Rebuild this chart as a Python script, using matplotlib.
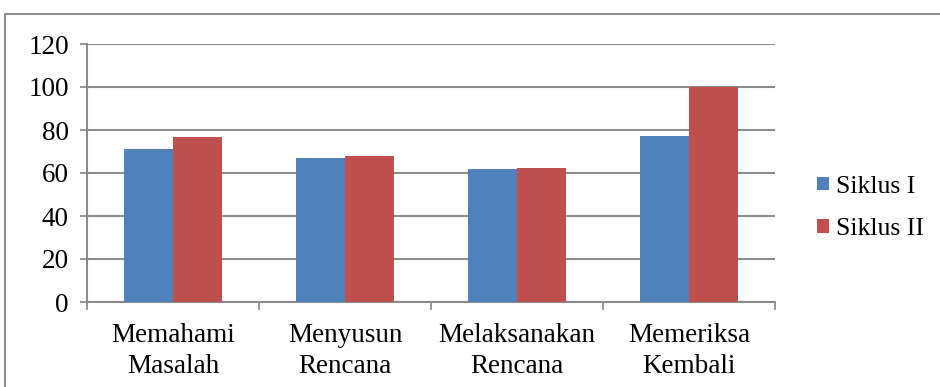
import matplotlib.pyplot as plt
import matplotlib.patches as mpatches
import numpy as np

# data
categories = ['Memahami\nMasalah', 'Menyusun\nRencana', 'Melaksanakan\nRencana', 'Memeriksa\nKembali']
siklus_1 = [71.2, 66.8, 61.7, 77.4]
siklus_2 = [76.9, 67.9, 62.3, 100.0]
series_names = ['Siklus I', 'Siklus II']
y_ticks = [0, 20, 40, 60, 80, 100, 120]

BLUE = '#4F81BD'
RED = '#C0504D'
GRID = '#8C8C8C'
FS = 19.5

plt.rcParams['font.family'] = ['Liberation Serif', 'DejaVu Serif']

fig = plt.figure(figsize=(9.4, 3.87), dpi=100)

# outer chart frame (cut off at the right and bottom edges)
frame = mpatches.Rectangle((5 / 940, -0.1), 1.2, (387 - 14) / 387 + 0.1,
                           transform=fig.transFigure, fill=False,
                           edgecolor='#8C8C8C', linewidth=1.5)
fig.patches.append(frame)

ax = fig.add_axes([87 / 940, (387 - 302) / 387, (775 - 87) / 940, (302 - 44) / 387])

x = np.arange(len(categories))
w = 0.285
ax.bar(x - w / 2, siklus_1, w, color=BLUE, zorder=3, label=series_names[0])
ax.bar(x + w / 2, siklus_2, w, color=RED, zorder=3, label=series_names[1])

ax.set_xlim(-0.5, len(categories) - 0.5)
ax.set_ylim(0, 120)
ax.set_yticks(y_ticks)
ax.set_yticklabels([str(v) for v in y_ticks], fontsize=FS)
ax.yaxis.grid(True, color=GRID, linewidth=1.5, zorder=0)
ax.set_axisbelow(True)

# category boundary ticks, labels centred on minor ticks
ax.set_xticks(np.arange(-0.5, len(categories), 1.0))
ax.set_xticklabels([])
ax.set_xticks(x, minor=True)
ax.set_xticklabels(categories, minor=True, fontsize=FS, linespacing=1.3)
ax.tick_params(axis='x', which='major', direction='out', length=6, width=1.3, color=GRID)
ax.tick_params(axis='x', which='minor', length=0, pad=15)
ax.tick_params(axis='y', direction='out', length=5, width=1.3, color=GRID, pad=8)

for side in ['top', 'right']:
    ax.spines[side].set_visible(False)
for side in ['left', 'bottom']:
    ax.spines[side].set_color(GRID)
    ax.spines[side].set_linewidth(1.5)

handles = [mpatches.Patch(facecolor=BLUE, label=series_names[0]),
           mpatches.Patch(facecolor=RED, label=series_names[1])]
fig.legend(handles=handles, loc='center left', bbox_to_anchor=(794 / 940, (387 - 208) / 387),
           frameon=False, fontsize=18.5, handlelength=0.45, handleheight=0.45,
           handletextpad=0.3, labelspacing=0.8)

fig.savefig('out.png', dpi=100)
